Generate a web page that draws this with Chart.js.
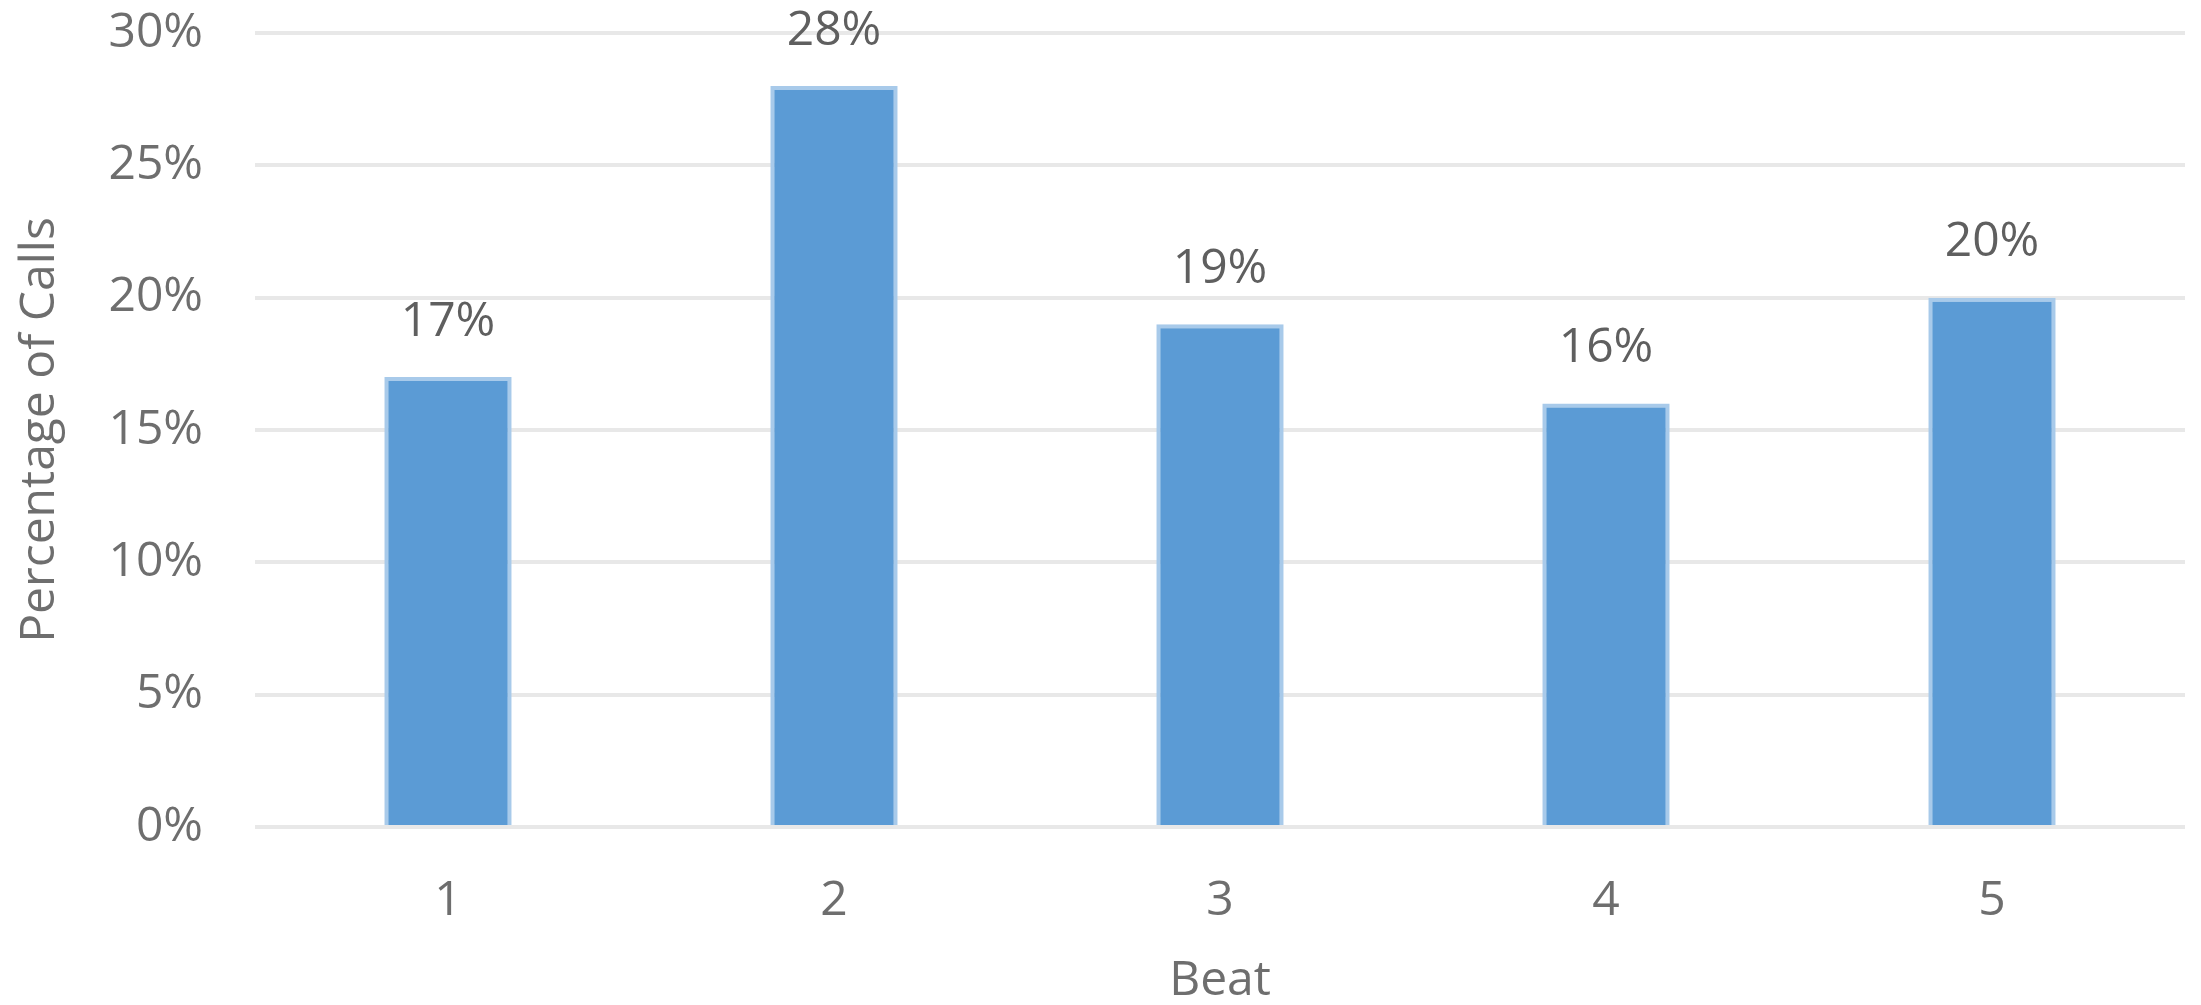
<!DOCTYPE html>
<html>
<head>
<meta charset="utf-8">
<script src="https://cdn.jsdelivr.net/npm/chart.js@4/dist/chart.umd.min.js"></script>
<style>
  html, body { margin: 0; padding: 0; background: #fff; }
  #wrap { width: 2201px; height: 1005px; }
</style>
</head>
<body>
<div id="wrap"><canvas id="chart" width="2201" height="1005"></canvas></div>
<script>
// Data
const beats = ['1', '2', '3', '4', '5'];
const callShare = [17, 28, 19, 16, 20];
const yTicks = [0, 5, 10, 15, 20, 25, 30];

const textGray = '#6e6e6e';
const fontFamily = '"Open Sans", "Noto Sans", sans-serif';

// Draw the % value above each bar
const valueLabels = {
    id: 'valueLabels',
    afterDatasetsDraw(chart) {
        const ctx = chart.ctx;
        const meta = chart.getDatasetMeta(0);
        ctx.save();
        ctx.font = '48px ' + fontFamily;
        ctx.fillStyle = '#5f5f5f';
        ctx.textAlign = 'center';
        ctx.textBaseline = 'middle';
        meta.data.forEach((bar, i) => {
            ctx.fillText(callShare[i] + '%', bar.x, bar.y - 55);
        });
        ctx.restore();
    }
};

const ctx = document.getElementById('chart').getContext('2d');
new Chart(ctx, {
    type: 'bar',
    data: {
        labels: beats,
        datasets: [{
            data: callShare,
            backgroundColor: '#5B9BD5',
            borderColor: '#A8CAEA',
            borderWidth: 4,
            categoryPercentage: 1,
            barPercentage: 0.33
        }]
    },
    options: {
        responsive: false,
        animation: false,
        devicePixelRatio: 1,
        layout: { padding: { top: 33, right: 16, left: 0, bottom: 0 } },
        plugins: {
            legend: { display: false },
            tooltip: { enabled: false }
        },
        scales: {
            x: {
                grid: { display: false },
                border: { display: false },
                ticks: {
                    color: textGray,
                    font: { family: fontFamily, size: 48 },
                    padding: 38
                },
                title: {
                    display: true,
                    text: 'Beat',
                    color: textGray,
                    font: { family: fontFamily, size: 48, lineHeight: 1 },
                    padding: { top: 0, bottom: 0 }
                },
                afterFit(scale) { scale.height = 178; }
            },
            y: {
                min: 0,
                max: 30,
                afterBuildTicks(scale) {
                    scale.ticks = yTicks.map(v => ({ value: v }));
                },
                grid: {
                    color: '#E8E8E8',
                    lineWidth: 4,
                    drawTicks: false
                },
                border: { display: false },
                ticks: {
                    color: textGray,
                    font: { family: fontFamily, size: 48 },
                    padding: 52,
                    callback: v => v + '%'
                },
                title: {
                    display: true,
                    text: 'Percentage of Calls',
                    color: textGray,
                    font: { family: fontFamily, size: 48 },
                    padding: { top: 12, bottom: 0 }
                },
                afterFit(scale) {
                    scale.width = 255;
                    // keep the horizontal tick padding out of the top margin
                    scale.paddingTop = 20;
                    scale.paddingBottom = 20;
                }
            }
        }
    },
    plugins: [valueLabels]
});
</script>
</body>
</html>
